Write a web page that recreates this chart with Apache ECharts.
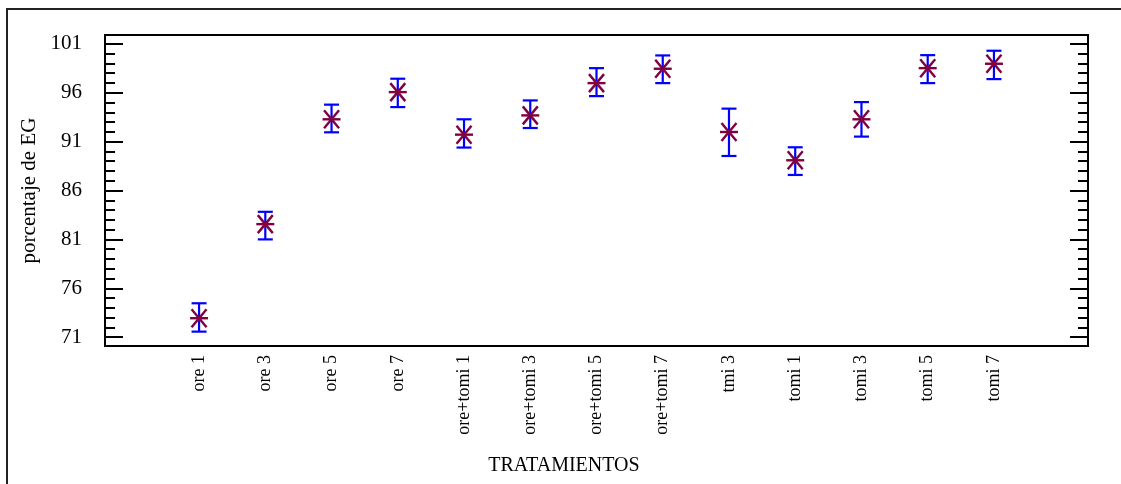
<!DOCTYPE html>
<html>
<head>
<meta charset="utf-8">
<script src="https://cdn.jsdelivr.net/npm/echarts@6/dist/echarts.min.js"></script>
<style>
  html, body { margin: 0; padding: 0; background: #fff; }
  #chart { width: 1121px; height: 484px; }
</style>
</head>
<body>
<div id="chart"></div>
<script>
// Treatments and their mean germination percentage with interval limits
const categories = ['ore 1', 'ore 3', 'ore 5', 'ore 7', 'ore+tomi 1', 'ore+tomi 3', 'ore+tomi 5', 'ore+tomi 7', 'tmi 3', 'tomi 1', 'tomi 3', 'tomi 5', 'tomi 7'];
const means = [72.94, 82.56, 93.28, 96.06, 91.71, 93.68, 96.98, 98.45, 91.98, 89.09, 93.28, 98.51, 98.96];
const lower = [71.57, 81.00, 91.95, 94.53, 90.39, 92.39, 95.65, 96.98, 89.53, 87.59, 91.51, 96.98, 97.39];
const upper = [74.47, 83.82, 94.78, 97.43, 93.28, 95.21, 98.51, 99.81, 94.37, 90.42, 95.04, 99.84, 100.29];
const majorTicks = [71, 76, 81, 86, 91, 96, 101];
const minorTicks = [];
for (let v = 71; v <= 101; v++) if (majorTicks.indexOf(v) < 0) minorTicks.push(v);

const FONT = '"Liberation Serif", "Times New Roman", serif';
const Y_MIN = 70.1, Y_MAX = 101.9;

function yAxisDef(position, ticks, len, withLabels) {
  return {
    type: 'value', min: Y_MIN, max: Y_MAX, position: position,
    axisLine: { show: false, onZero: false },
    splitLine: { show: false },
    axisTick: { show: true, inside: true, length: len, customValues: ticks,
      lineStyle: { color: '#000', width: 2 } },
    axisLabel: { show: withLabels, customValues: ticks, margin: 23,
      fontFamily: FONT, fontSize: 21, color: '#000' }
  };
}

const leftMajor = yAxisDef('left', majorTicks, 18, true);
leftMajor.name = 'porcentaje de EG';
leftMajor.nameLocation = 'middle';
leftMajor.nameGap = 60;
leftMajor.nameTextStyle = { fontFamily: FONT, fontSize: 21, color: '#000' };

const chart = echarts.init(document.getElementById('chart'), null, { renderer: 'canvas' });
chart.setOption({
  animation: false,
  backgroundColor: '#fff',
  grid: { left: 105, top: 35, width: 983, height: 311, show: true,
    borderColor: '#000', borderWidth: 2, backgroundColor: 'transparent' },
  xAxis: {
    type: 'value', min: -1.42, max: 13.42,
    axisLine: { show: false, onZero: false }, axisTick: { show: false }, splitLine: { show: false },
    axisLabel: {
      customValues: categories.map((c, i) => i),
      formatter: v => categories[Math.round(v)],
      rotate: 90, margin: 9, fontFamily: FONT, fontSize: 18, color: '#000'
    }
  },
  yAxis: [
    leftMajor,
    yAxisDef('left', minorTicks, 10, false),
    yAxisDef('right', majorTicks, 18, false),
    yAxisDef('right', minorTicks, 10, false)
  ],
  graphic: [
    { type: 'rect', shape: { x: 7, y: 9, width: 1130, height: 500 },
      style: { fill: 'none', stroke: '#222', lineWidth: 2 }, silent: true },
    { type: 'text', x: 564, y: 466,
      style: { text: 'TRATAMIENTOS', fontFamily: FONT, fontSize: 20, fill: '#000',
        align: 'center', verticalAlign: 'middle' } }
  ],
  series: [{
    type: 'custom',
    xAxisIndex: 0, yAxisIndex: 0,
    encode: { x: 0, y: [1, 2, 3] },
    data: categories.map((c, i) => [i, means[i], lower[i], upper[i]]),
    renderItem: function (params, api) {
      const x = api.value(0);
      const pm = api.coord([x, api.value(1)]);
      const pl = api.coord([x, api.value(2)]);
      const ph = api.coord([x, api.value(3)]);
      const cap = 7.5;
      const bar = { stroke: '#0000ff', lineWidth: 2.2 };
      const star = { stroke: '#800040', lineWidth: 2.4 };
      const cx = pm[0], cy = pm[1];
      return {
        type: 'group',
        children: [
          { type: 'line', shape: { x1: pl[0], y1: pl[1], x2: ph[0], y2: ph[1] }, style: bar },
          { type: 'line', shape: { x1: ph[0] - cap, y1: ph[1], x2: ph[0] + cap, y2: ph[1] }, style: bar },
          { type: 'line', shape: { x1: pl[0] - cap, y1: pl[1], x2: pl[0] + cap, y2: pl[1] }, style: bar },
          { type: 'line', shape: { x1: cx - 9, y1: cy, x2: cx + 9, y2: cy }, style: star },
          { type: 'line', shape: { x1: cx - 7.5, y1: cy - 9, x2: cx + 7.5, y2: cy + 9 }, style: star },
          { type: 'line', shape: { x1: cx - 7.5, y1: cy + 9, x2: cx + 7.5, y2: cy - 9 }, style: star }
        ]
      };
    }
  }]
});
</script>
</body>
</html>
